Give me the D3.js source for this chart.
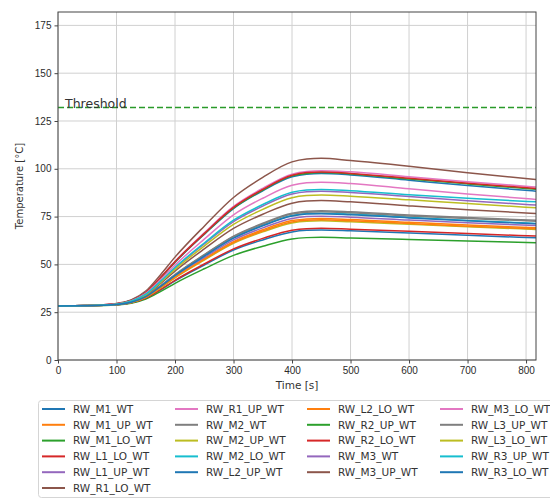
<!DOCTYPE html>
<html><head><meta charset="utf-8">
<script src="https://cdn.jsdelivr.net/npm/d3@7"></script>
<style>
body{margin:0;background:#fff;}
svg{display:block;font-family:"DejaVu Sans",sans-serif;}
.tick text{fill:#2b2b2b;font-size:10px;}
</style></head>
<body><svg id="c" width="550" height="500"></svg>
<script>
const times = [0,50,100,125,150,175,200,250,300,350,400,425,450,500,600,700,817];
const xTicks = [0,100,200,300,400,500,600,700,800];
const yTicks = [0,25,50,75,100,125,150,175];
const threshold = 132;

const RW_M1_WT    = [28.3,28.4,28.9,29.9,32.3,36.6,41.4,49.7,57.5,62.8,67.0,67.8,68.0,67.6,66.4,65.2,63.9];
const RW_M1_UP_WT = [28.3,28.4,29.0,30.1,32.9,37.9,43.4,53.0,61.9,68.1,72.9,73.8,74.0,73.5,72.0,70.6,69.1];
const RW_M1_LO_WT = [28.3,28.4,28.8,29.7,31.9,35.8,40.1,47.7,54.7,59.5,63.3,64.0,64.2,63.8,63.0,62.2,61.3];
const RW_L1_LO_WT = [28.3,28.4,28.9,29.9,32.4,36.8,41.7,50.2,58.1,63.6,67.9,68.7,68.9,68.4,67.3,66.1,64.8];
const RW_L1_UP_WT = [28.3,28.4,29.0,30.2,33.0,38.1,43.8,53.6,62.8,69.1,74.0,75.0,75.2,74.7,73.2,71.8,70.3];
const RW_R1_LO_WT = [28.3,28.5,29.5,31.4,36.0,44.5,53.8,70.0,85.0,95.5,103.6,105.1,105.5,104.3,101.3,97.9,94.4];
const RW_R1_UP_WT = [28.3,28.5,29.4,31.1,35.4,43.1,51.6,66.5,80.3,89.8,97.2,98.6,99.0,98.4,95.8,93.2,90.5];
const RW_M2_WT    = [28.3,28.5,29.0,30.3,33.3,38.7,44.7,55.1,64.8,71.5,76.8,77.8,78.0,77.5,75.8,74.5,73.1];
const RW_M2_UP_WT = [28.3,28.4,29.0,30.1,32.8,37.6,43.0,52.3,61.0,67.0,71.7,72.6,72.8,72.3,71.0,69.7,68.3];
const RW_M2_LO_WT = [28.3,28.4,29.0,30.2,33.2,38.5,44.3,54.5,64.0,70.5,75.6,76.6,76.8,76.3,74.6,73.0,71.4];
const RW_L2_UP_WT = [28.3,28.5,29.3,31.1,35.2,42.8,51.1,65.7,79.2,88.5,95.8,97.2,97.5,96.8,94.0,91.2,88.3];
const RW_L2_LO_WT = [28.3,28.4,29.0,30.1,32.8,37.8,43.2,52.6,61.4,67.5,72.2,73.1,73.3,72.8,71.4,70.0,68.6];
const RW_R2_UP_WT = [28.3,28.5,29.3,31.1,35.3,42.9,51.3,65.9,79.5,88.9,96.3,97.6,98.0,97.3,94.6,92.1,89.3];
const RW_R2_LO_WT = [28.3,28.5,29.4,31.1,35.3,43.0,51.4,66.1,79.8,89.2,96.6,98.0,98.3,97.6,95.0,92.5,89.7];
const RW_M3_WT    = [28.3,28.5,29.2,30.7,34.3,40.9,48.1,60.7,72.4,80.5,86.8,88.0,88.3,87.6,85.5,83.3,81.0];
const RW_M3_UP_WT = [28.3,28.5,29.1,30.5,33.8,39.9,46.5,58.1,68.8,76.2,82.0,83.1,83.4,82.7,80.6,78.6,76.6];
const RW_M3_LO_WT = [28.3,28.5,29.3,30.9,34.8,41.9,49.6,63.2,75.9,84.6,91.4,92.7,93.0,92.3,89.5,86.8,84.0];
const RW_L3_UP_WT = [28.3,28.4,29.0,30.3,33.2,38.6,44.5,54.9,64.5,71.1,76.3,77.3,77.5,77.0,75.3,74.0,72.6];
const RW_L3_LO_WT = [28.3,28.5,29.2,30.6,34.1,40.5,47.4,59.6,70.9,78.8,84.9,86.0,86.3,85.7,83.8,81.8,79.6];
const RW_R3_UP_WT = [28.3,28.5,29.2,30.7,34.4,41.1,48.4,61.2,73.1,81.3,87.7,88.9,89.2,88.5,86.4,84.6,82.7];
const RW_R3_LO_WT = [28.3,28.4,29.0,30.2,33.1,38.4,44.2,54.3,63.7,70.2,75.3,76.3,76.5,76.0,74.3,72.8,71.2];

const seriesNames = ["RW_M1_WT","RW_M1_UP_WT","RW_M1_LO_WT","RW_L1_LO_WT","RW_L1_UP_WT","RW_R1_LO_WT","RW_R1_UP_WT",
  "RW_M2_WT","RW_M2_UP_WT","RW_M2_LO_WT","RW_L2_UP_WT","RW_L2_LO_WT","RW_R2_UP_WT","RW_R2_LO_WT",
  "RW_M3_WT","RW_M3_UP_WT","RW_M3_LO_WT","RW_L3_UP_WT","RW_L3_LO_WT","RW_R3_UP_WT","RW_R3_LO_WT"];
const seriesValues = [RW_M1_WT,RW_M1_UP_WT,RW_M1_LO_WT,RW_L1_LO_WT,RW_L1_UP_WT,RW_R1_LO_WT,RW_R1_UP_WT,
  RW_M2_WT,RW_M2_UP_WT,RW_M2_LO_WT,RW_L2_UP_WT,RW_L2_LO_WT,RW_R2_UP_WT,RW_R2_LO_WT,
  RW_M3_WT,RW_M3_UP_WT,RW_M3_LO_WT,RW_L3_UP_WT,RW_L3_LO_WT,RW_R3_UP_WT,RW_R3_LO_WT];

const palette = ["#1f77b4","#ff7f0e","#2ca02c","#d62728","#9467bd","#8c564b","#e377c2","#7f7f7f","#bcbd22","#17becf"];

const svg = d3.select("#c");
const L = 58, R = 536, T = 12, B = 360;
const x = d3.scaleLinear().domain([0, 817]).range([L, R]);
const y = d3.scaleLinear().domain([0, 182]).range([B, T]);

// grid
const g = svg.append("g");
g.selectAll(".gx").data(xTicks).enter().append("line")
  .attr("x1", d => x(d)).attr("x2", d => x(d)).attr("y1", T).attr("y2", B)
  .attr("stroke", "#d0d0d0").attr("stroke-width", 1);
g.selectAll(".gy").data(yTicks).enter().append("line")
  .attr("x1", L).attr("x2", R).attr("y1", d => y(d)).attr("y2", d => y(d))
  .attr("stroke", "#d0d0d0").attr("stroke-width", 1);

// lines
const line = d3.line().x((d, i) => x(times[i])).y(d => y(d)).curve(d3.curveMonotoneX);
svg.append("clipPath").attr("id", "clp").append("rect")
  .attr("x", L).attr("y", T).attr("width", R - L).attr("height", B - T);
const lg = svg.append("g").attr("clip-path", "url(#clp)");
seriesValues.forEach((vals, i) => {
  lg.append("path").datum(vals).attr("d", line)
    .attr("fill", "none").attr("stroke", palette[i % 10]).attr("stroke-width", 1.5);
});

// threshold
svg.append("line").attr("x1", L).attr("x2", R).attr("y1", y(threshold)).attr("y2", y(threshold))
  .attr("stroke", "#2a9a2a").attr("stroke-width", 1.5).attr("stroke-dasharray", "6,3");
svg.append("text").attr("x", x(12)).attr("y", y(threshold) + 0.5)
  .attr("font-size", 12.5).attr("fill", "#333").text("Threshold");

// axes
const xa = svg.append("g").attr("transform", `translate(0,${B})`)
  .call(d3.axisBottom(x).tickValues(xTicks).tickSize(3.5).tickPadding(3).tickFormat(d3.format("d")));
const ya = svg.append("g").attr("transform", `translate(${L},0)`)
  .call(d3.axisLeft(y).tickValues(yTicks).tickSize(3.5).tickPadding(3).tickFormat(d3.format("d")));
[xa, ya].forEach(a => { a.select(".domain").remove(); a.selectAll(".tick line").attr("stroke", "#444"); });

// frame
svg.append("rect").attr("x", L).attr("y", T).attr("width", R - L).attr("height", B - T)
  .attr("fill", "none").attr("stroke", "#444").attr("stroke-width", 1);

svg.append("text").attr("x", (L + R) / 2).attr("y", 389).attr("text-anchor", "middle")
  .attr("font-size", 10.5).attr("fill", "#333").text("Time [s]");
svg.append("text").attr("transform", `translate(23,${(T + B) / 2}) rotate(-90)`)
  .attr("text-anchor", "middle").attr("font-size", 10).attr("fill", "#333").text("Temperature [°C]");

// legend
svg.append("rect").attr("x", 38.5).attr("y", 400.5).attr("width", 560).attr("height", 97).attr("rx", 3)
  .attr("fill", "#fff").attr("stroke", "#d5d5d5");
const colX = [42, 175, 307, 440];
const perCol = [6, 5, 5, 5];
let idx = 0;
perCol.forEach((n, c) => {
  for (let r = 0; r < n; r++, idx++) {
    const cy = 409 + r * 15.8;
    svg.append("line").attr("x1", colX[c]).attr("x2", colX[c] + 23).attr("y1", cy).attr("y2", cy)
      .attr("stroke", palette[idx % 10]).attr("stroke-width", 2);
    svg.append("text").attr("x", colX[c] + 31).attr("y", cy + 3.8)
      .attr("font-size", 10.5).attr("fill", "#333").text(seriesNames[idx]);
  }
});
</script></body></html>
